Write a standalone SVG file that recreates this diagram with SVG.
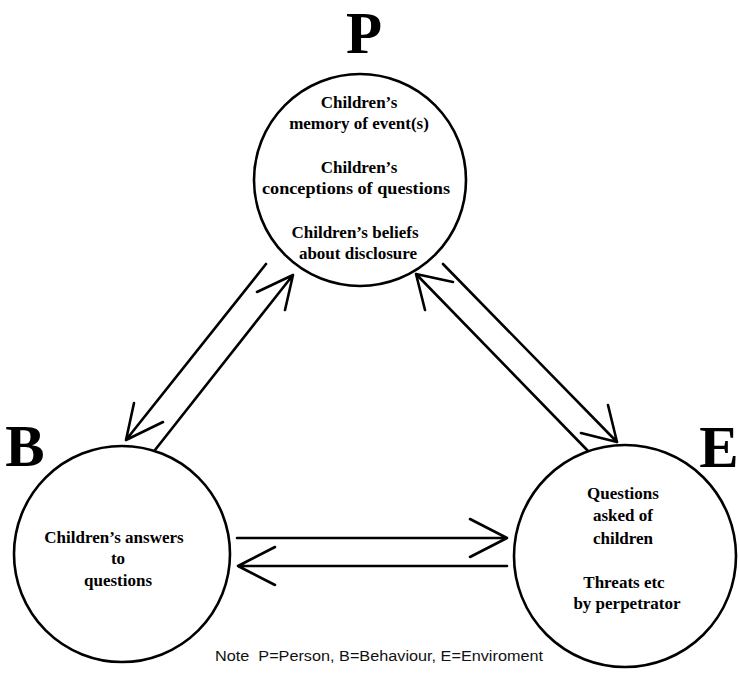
<svg xmlns="http://www.w3.org/2000/svg" width="739" height="677" viewBox="0 0 739 677">
<style>
.node{fill:#fff;stroke:#000;stroke-width:2.6}
.lbl{font-family:"Liberation Serif","Times New Roman",serif;font-weight:bold;font-size:17px;fill:#000;text-anchor:middle}
.big{font-family:"Liberation Serif","Times New Roman",serif;font-weight:bold;font-size:59px;fill:#000;text-anchor:middle}
.note{font-family:"Liberation Sans",Arial,sans-serif;font-size:14px;fill:#111;text-anchor:start;white-space:pre}
.cn{fill:none;stroke:#000;stroke-width:2.6;stroke-linecap:round;stroke-linejoin:round}
</style>
<rect width="739" height="677" fill="#fff"/>
<g id="connectors">
  <path class="cn" d="M266,264 L126,440 M134,403 L126,440 L163,422"/>
  <path class="cn" d="M155,450 L293,275 M257,292 L293,275 L285,310"/>
  <path class="cn" d="M589,452 L416,274 M453,282 L416,274 L425,310"/>
  <path class="cn" d="M443,264 L617,442 M581,433 L617,442 L608,405"/>
  <path class="cn" d="M237,538 L507,538 M470,519 L507,538 L470,557"/>
  <path class="cn" d="M507,566 L238,566 M275,547 L238,566 L275,585"/>
</g>
<g id="node-P">
  <text class="big" x="364" y="53">P</text>
  <circle class="node" cx="360" cy="180" r="106"/>
  <text class="lbl" x="359" y="108">Children’s</text>
  <text class="lbl" x="359" y="129">memory of event(s)</text>
  <text class="lbl" x="359" y="173">Children’s</text>
  <text class="lbl" x="356" y="194" textLength="188" lengthAdjust="spacingAndGlyphs">conceptions of questions</text>
  <text class="lbl" x="355" y="238">Children’s beliefs</text>
  <text class="lbl" x="358" y="259">about disclosure</text>
</g>
<g id="node-B">
  <text class="big" x="25" y="466">B</text>
  <circle class="node" cx="122" cy="554" r="108"/>
  <text class="lbl" x="114" y="543">Children’s answers</text>
  <text class="lbl" x="118" y="564">to</text>
  <text class="lbl" x="118" y="586">questions</text>
</g>
<g id="node-E">
  <text class="big" x="719" y="467">E</text>
  <circle class="node" cx="625" cy="556" r="111"/>
  <text class="lbl" x="623" y="499">Questions</text>
  <text class="lbl" x="623" y="521">asked of</text>
  <text class="lbl" x="623" y="544">children</text>
  <text class="lbl" x="624" y="588">Threats etc</text>
  <text class="lbl" x="627" y="609">by perpetrator</text>
</g>
<text class="note" x="215" y="661" textLength="328" lengthAdjust="spacingAndGlyphs">Note  P=Person, B=Behaviour, E=Enviroment</text>
</svg>
